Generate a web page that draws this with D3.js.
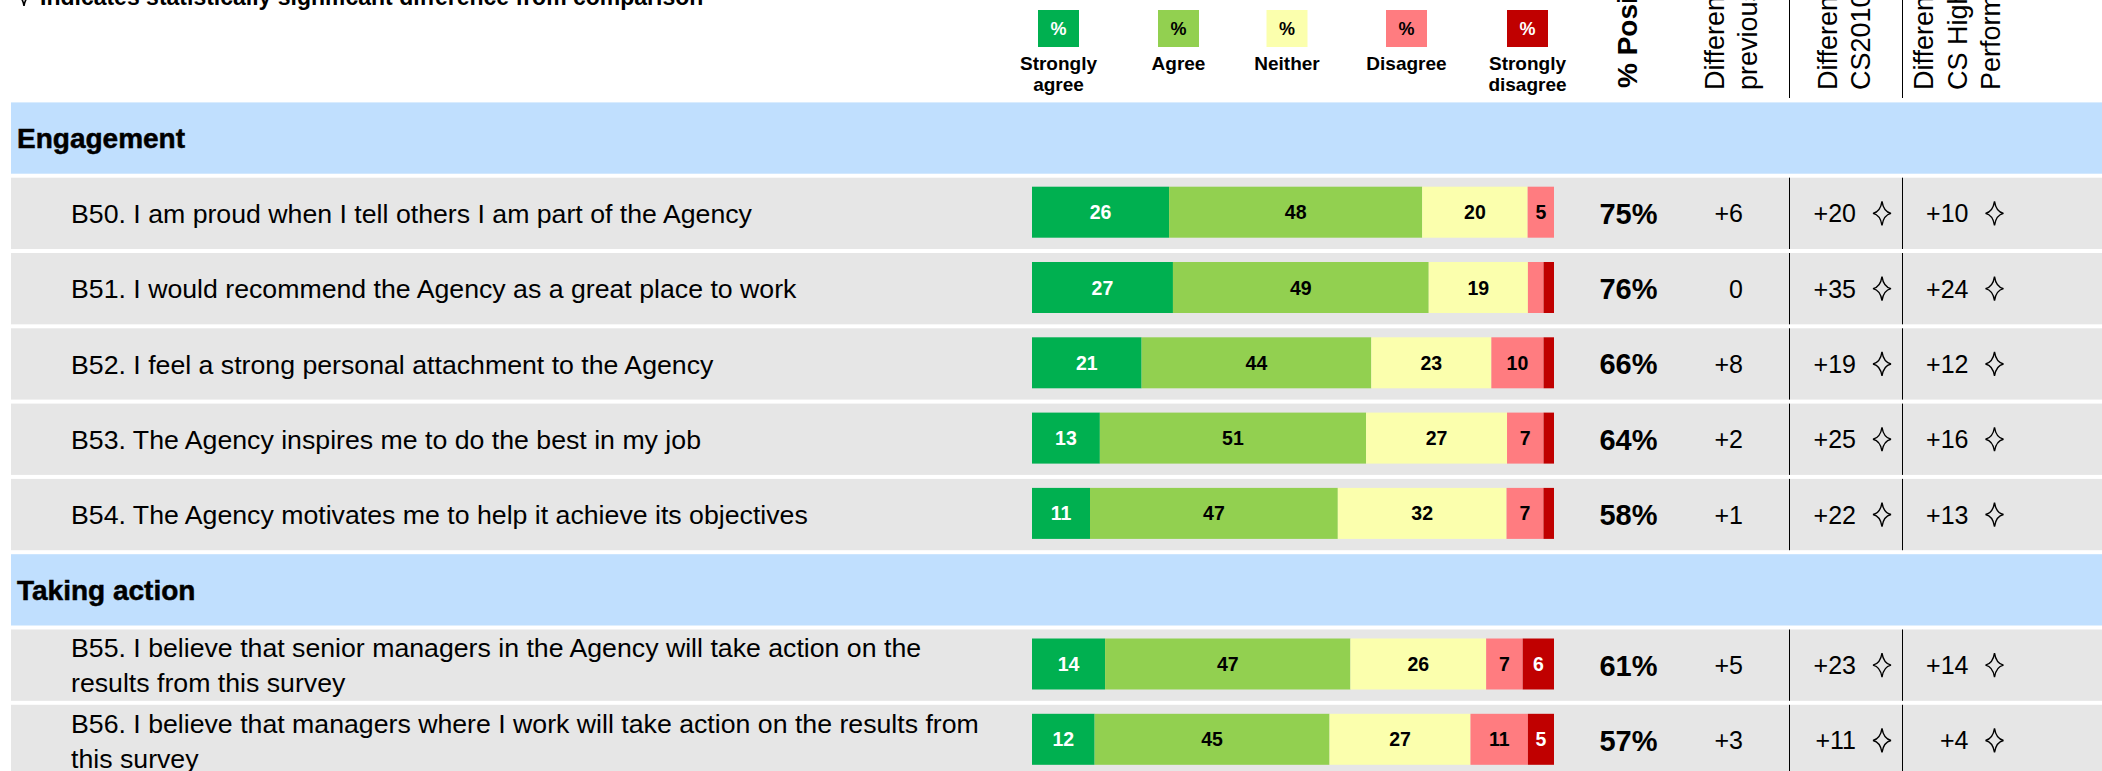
<!DOCTYPE html>
<html>
<head>
<meta charset="utf-8">
<script src="https://cdn.jsdelivr.net/npm/d3@7"></script>
<style>
    html, body { margin: 0; padding: 0; background: #fff; }
    svg { display: block; }
    text { font-family: "Liberation Sans", Arial, Helvetica, sans-serif; }
</style>
</head>
<body>
<div id="chart"></div>
<script>
(function() {
    // Data
    const sections = ["Engagement", "Taking action"];
    const questions = [
        ["B50. I am proud when I tell others I am part of the Agency"],
        ["B51. I would recommend the Agency as a great place to work"],
        ["B52. I feel a strong personal attachment to the Agency"],
        ["B53. The Agency inspires me to do the best in my job"],
        ["B54. The Agency motivates me to help it achieve its objectives"],
        ["B55. I believe that senior managers in the Agency will take action on the", "results from this survey"],
        ["B56. I believe that managers where I work will take action on the results from", "this survey"]
    ];
    const questionSection = [0, 0, 0, 0, 0, 1, 1];

    const categories = ["Strongly agree", "Agree", "Neither", "Disagree", "Strongly disagree"];
    const stronglyAgree    = [26, 27, 21, 13, 11, 14, 12];
    const agree            = [48, 49, 44, 51, 47, 47, 45];
    const neither          = [20, 19, 23, 27, 32, 26, 27];
    const disagree         = [5, 3, 10, 7, 7, 7, 11];
    const stronglyDisagree = [0, 2, 2, 2, 2, 6, 5];

    const percentPositive = [75, 76, 66, 64, 58, 61, 57];
    const diffPrevious    = [6, 0, 8, 2, 1, 5, 3];
    const diffCS2010      = [20, 35, 19, 25, 22, 23, 11];
    const sigCS2010       = [true, true, true, true, true, true, true];
    const diffHighPerf    = [10, 24, 12, 16, 13, 14, 4];
    const sigHighPerf     = [true, true, true, true, true, true, true];

    const columnHeaders = [
        ["Difference from", "previous survey"],
        ["Difference from", "CS2010 median"],
        ["Difference from", "CS High", "Performers"]
    ];
    const footnote = "Indicates statistically significant difference from comparison";

    // Layout
    const width = 2102, height = 771;
    const font = '"Liberation Sans", Arial, Helvetica, sans-serif';
    const colors = ["#00B050", "#92D050", "#FBFFAD", "#FF7C80", "#C00000"];
    const labelColors = ["#fff", "#000", "#000", "#000", "#fff"];
    const legendX = [1058.5, 1178.5, 1287, 1406.5, 1527.5];
    const series = [stronglyAgree, agree, neither, disagree, stronglyDisagree];

    const fmtDiff = d => d > 0 ? "+" + d : String(d);
    const starPath = "M0,-12 Q1.6,-1.6 9,0 Q1.6,1.6 0,12 Q-1.6,1.6 -9,0 Q-1.6,-1.6 0,-12 Z";

    const svg = d3.select("#chart")
        .append("svg")
        .attr("width", width)
        .attr("height", height)
        .style("font-family", font);

    // Footnote (mostly cut off at the top)
    svg.append("path")
        .attr("d", starPath)
        .attr("transform", "translate(24,-6)")
        .attr("fill", "none")
        .attr("stroke", "#000")
        .attr("stroke-width", 1.6);
    svg.append("text")
        .attr("x", 40)
        .attr("y", 5)
        .attr("font-size", 23)
        .attr("font-weight", "bold")
        .text(footnote);

    // Legend
    const legend = svg.append("g").selectAll("g")
        .data(categories)
        .enter().append("g")
        .attr("transform", (d, i) => `translate(${legendX[i]},0)`);

    legend.append("rect")
        .attr("x", -20.5)
        .attr("y", 10)
        .attr("width", 41)
        .attr("height", 37)
        .attr("fill", (d, i) => colors[i]);

    legend.append("text")
        .attr("y", 35)
        .attr("text-anchor", "middle")
        .attr("font-size", 18)
        .attr("font-weight", "bold")
        .attr("fill", (d, i) => labelColors[i])
        .text("%");

    legend.each(function(d) {
        const words = d.split(" ");
        d3.select(this).selectAll("text.lbl")
            .data(words)
            .enter().append("text")
            .attr("class", "lbl")
            .attr("y", (w, j) => 70 + j * 21)
            .attr("text-anchor", "middle")
            .attr("font-size", 19)
            .attr("font-weight", "bold")
            .text(w => w);
    });

    // Rotated column headers
    svg.append("text")
        .attr("transform", "translate(1637,88) rotate(-90)")
        .attr("font-size", 28)
        .attr("font-weight", "bold")
        .text("% Positive");

    const headerBaselines = [[1724, 1757], [1837, 1870], [1933, 1967, 2000]];
    columnHeaders.forEach((lines, c) => {
        lines.forEach((line, j) => {
            svg.append("text")
                .attr("transform", `translate(${headerBaselines[c][j]},90) rotate(-90)`)
                .attr("font-size", 27)
                .text(line);
        });
    });

    const dividerX = [1789.5, 1902.5];
    dividerX.forEach(x => {
        svg.append("line")
            .attr("x1", x).attr("x2", x)
            .attr("y1", 0).attr("y2", 98)
            .attr("stroke", "#000")
            .attr("stroke-width", 1);
    });

    // Rows: a section band followed by its questions
    const slots = [];
    sections.forEach((s, si) => {
        slots.push({ type: "section", label: s });
        questions.forEach((q, i) => {
            if (questionSection[i] === si) slots.push({ type: "row", index: i });
        });
    });

    const step = 75.3, pad = 0.053;
    const y = d3.scaleBand()
        .domain(d3.range(slots.length))
        .range([102.4, 102.4 + step * (slots.length - pad)])
        .paddingInner(pad)
        .paddingOuter(0);
    const bh = y.bandwidth();

    const slotG = svg.append("g").selectAll("g")
        .data(slots)
        .enter().append("g")
        .attr("transform", (d, k) => `translate(0,${y(k)})`);

    slotG.append("rect")
        .attr("x", 11)
        .attr("width", width - 11)
        .attr("height", bh)
        .attr("fill", d => d.type === "section" ? "#C0DFFE" : "#E6E6E6");

    // Section titles
    slotG.filter(d => d.type === "section")
        .append("text")
        .attr("x", 17)
        .attr("y", bh / 2)
        .attr("dy", "0.36em")
        .attr("font-size", 28)
        .attr("font-weight", "bold")
        .attr("stroke", "#000")
        .attr("stroke-width", 0.5)
        .text(d => d.label);

    const rows = slotG.filter(d => d.type === "row");

    // Question text
    rows.each(function(d) {
        const lines = questions[d.index];
        const lh = 35;
        d3.select(this).selectAll("text.q")
            .data(lines)
            .enter().append("text")
            .attr("class", "q")
            .attr("x", 71)
            .attr("y", (l, j) => bh / 2 + (j - (lines.length - 1) / 2) * lh)
            .attr("dy", "0.36em")
            .attr("font-size", 26.7)
            .text(l => l);
    });

    // Stacked bars
    const barTop = 9, barH = 51;
    rows.each(function(d) {
        const i = d.index;
        const vals = series.map(s => s[i]);
        const total = d3.sum(vals);
        const x = d3.scaleLinear().domain([0, total]).range([1032, 1554]);
        let acc = 0;
        const segs = vals.map((v, c) => {
            const seg = { c: c, v: v, x0: acc, x1: acc + v };
            acc += v;
            return seg;
        });
        const g = d3.select(this);
        g.selectAll("rect.seg")
            .data(segs)
            .enter().append("rect")
            .attr("class", "seg")
            .attr("x", s => x(s.x0))
            .attr("y", barTop)
            .attr("width", s => x(s.x1) - x(s.x0))
            .attr("height", barH)
            .attr("fill", s => colors[s.c]);
        g.selectAll("text.val")
            .data(segs.filter(s => s.v >= 5))
            .enter().append("text")
            .attr("class", "val")
            .attr("x", s => (x(s.x0) + x(s.x1)) / 2)
            .attr("y", barTop + barH / 2)
            .attr("dy", "0.36em")
            .attr("text-anchor", "middle")
            .attr("font-size", 19.5)
            .attr("font-weight", "bold")
            .attr("fill", s => labelColors[s.c])
            .text(s => s.v);
    });

    // % positive
    rows.append("text")
        .attr("x", 1628.5)
        .attr("y", bh / 2)
        .attr("dy", "0.36em")
        .attr("text-anchor", "middle")
        .attr("font-size", 29)
        .attr("font-weight", "bold")
        .text(d => percentPositive[d.index] + "%");

    // Difference from previous
    rows.append("text")
        .attr("x", 1743)
        .attr("y", bh / 2)
        .attr("dy", "0.36em")
        .attr("text-anchor", "end")
        .attr("font-size", 25)
        .text(d => fmtDiff(diffPrevious[d.index]));

    // Column dividers inside rows
    dividerX.forEach(xv => {
        rows.append("line")
            .attr("x1", xv).attr("x2", xv)
            .attr("y1", 0).attr("y2", bh)
            .attr("stroke", "#000")
            .attr("stroke-width", 1);
    });

    // Comparison columns with significance stars
    const compCols = [
        { vals: diffCS2010, sig: sigCS2010, right: 1856, star: 1882 },
        { vals: diffHighPerf, sig: sigHighPerf, right: 1968.5, star: 1994.5 }
    ];
    compCols.forEach(col => {
        rows.append("text")
            .attr("x", col.right)
            .attr("y", bh / 2)
            .attr("dy", "0.36em")
            .attr("text-anchor", "end")
            .attr("font-size", 25)
            .text(d => fmtDiff(col.vals[d.index]));
        rows.filter(d => col.sig[d.index])
            .append("path")
            .attr("d", starPath)
            .attr("transform", `translate(${col.star},${bh / 2})`)
            .attr("fill", "none")
            .attr("stroke", "#000")
            .attr("stroke-width", 1.4);
    });
})();
</script>
</body>
</html>
